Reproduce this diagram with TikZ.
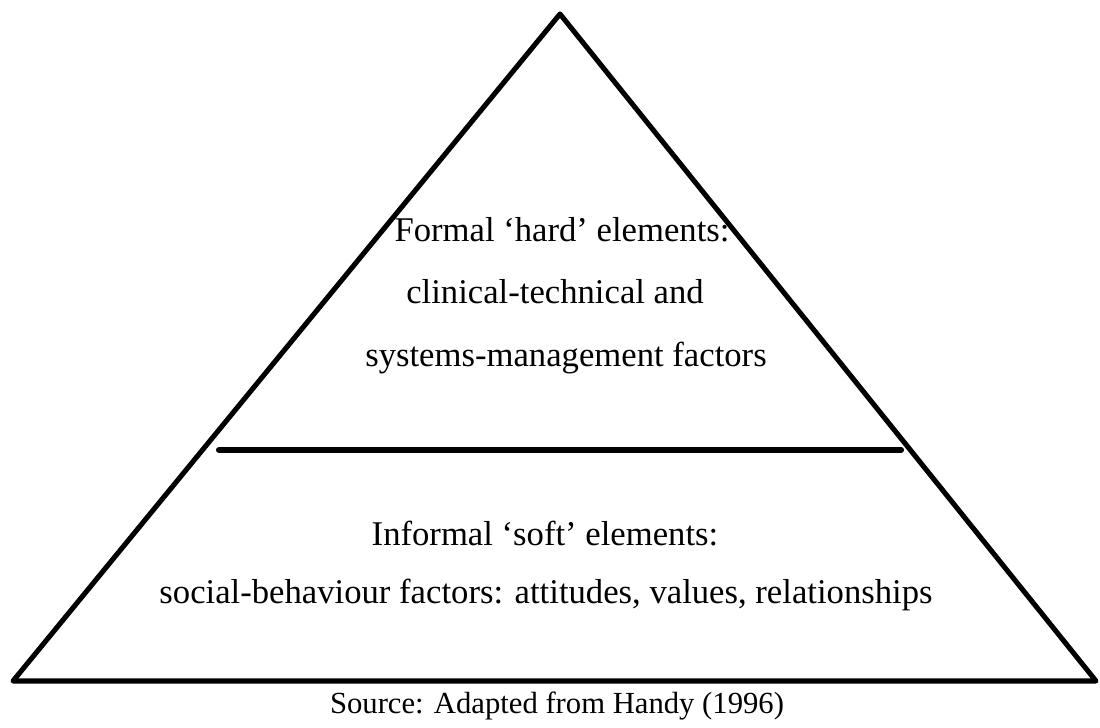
\documentclass[tikz,border=0pt]{standalone}
\usepackage{fontspec}
\setmainfont{Liberation Serif}

\tikzset{every picture/.style={line width=0.75pt}}
\tikzset{
  edge/.style={line width=3.8pt, line join=round, line cap=round},
  divider/.style={line width=4.6pt, line cap=round},
  label/.style={anchor=base, inner sep=0pt, font=\fontsize{26}{31}\selectfont},
  source/.style={anchor=base, inner sep=0pt, font=\fontsize{23}{28}\selectfont}
}

\begin{document}
\begin{tikzpicture}[x=0.75pt,y=0.75pt,yscale=-1,xscale=1]
\path (0,0) rectangle (1100,728); %set diagram size 1100 x 728

%Shape: Triangle
\coordinate (apex) at (560,14);
\coordinate (baseL) at (13,681);
\coordinate (baseR) at (1096,681);
\draw [edge] (apex) -- (baseR) -- (baseL) -- cycle ;
%Straight Lines
\coordinate (divL) at (219,450);
\coordinate (divR) at (901,450);
\draw [divider] (divL) -- (divR) ;

%Text: upper part
\node [label] (formal) at (562,241) {Formal `hard' elements:};
\node [label] (clinical) at (555,303) {clinical-technical and};
\node [label] (systems) at (566,366) {systems-management factors};
%Text: lower part
\node [label] (informal) at (545,545) {Informal `soft' elements:};
\node [label] (social) at (546,603) {social-behaviour factors: attitudes, values, relationships};
%Text: caption
\node [source] (source) at (557,713) {Source: Adapted from Handy (1996)};

\end{tikzpicture}
\end{document}
